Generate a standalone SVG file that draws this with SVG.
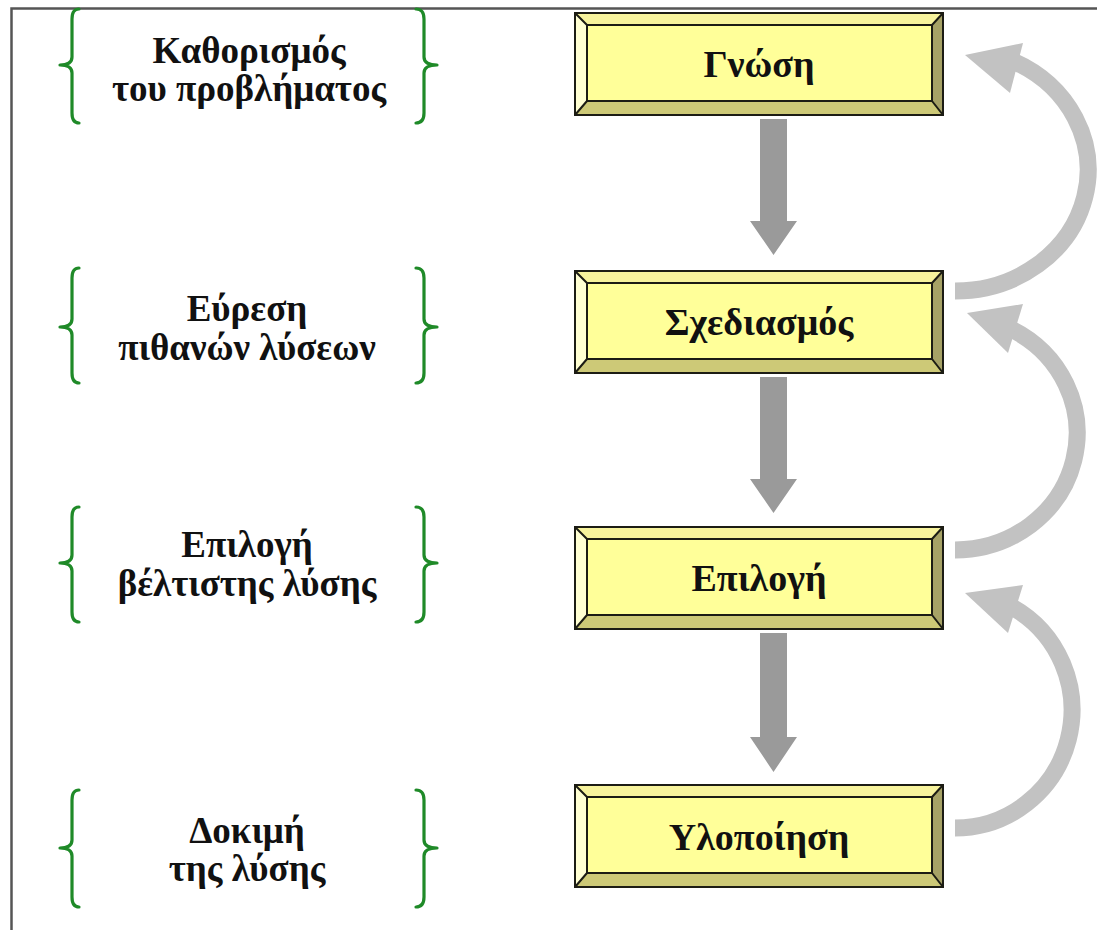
<svg xmlns="http://www.w3.org/2000/svg" width="1097" height="930" viewBox="0 0 1097 930">
<style>
.lbl{font-family:"Liberation Serif","Times New Roman",serif;font-weight:bold;font-size:37px;fill:#111;text-anchor:middle}
.box{font-size:38px}
.brace{fill:none;stroke:#1f8a28;stroke-width:3.2;stroke-linecap:round;stroke-linejoin:round}
.face{fill:#FFFF99}
.bt{fill:#F7F39C}
.bl{fill:#FFFFD2}
.bb{fill:#CDC977}
.br{fill:#A6A266}
.edge{fill:none;stroke:#1c1c14;stroke-width:2}
.down{fill:#9a9a9a}
.ret{fill:none;stroke:#c2c2c2;stroke-width:17}
.reth{fill:#c2c2c2}
</style>
<rect width="1097" height="930" fill="#fff"/>
<path d="M11.5 930 V8.5 H1097" fill="none" stroke="#555" stroke-width="2.5"/>

<g id="label1">
<path class="brace" d="M79 9 Q72 9 72 19 V57 Q72 65 60 65 Q72 65 72 73 V113 Q72 123 79 123"/>
<path class="brace" d="M416 9 Q424 9 424 19 V57 Q424 65 437 65 Q424 65 424 73 V113 Q424 123 416 123"/>
<text class="lbl" x="249" y="63">Καθορισμός</text>
<text class="lbl" x="249" y="101">του προβλήματος</text>
</g>
<g id="label2">
<path class="brace" d="M79 268 Q72 268 72 278 V319 Q72 327 60 327 Q72 327 72 335 V373 Q72 383 79 383"/>
<path class="brace" d="M416 268 Q424 268 424 278 V319 Q424 327 437 327 Q424 327 424 335 V373 Q424 383 416 383"/>
<text class="lbl" x="247" y="321">Εύρεση</text>
<text class="lbl" x="247" y="360">πιθανών λύσεων</text>
</g>
<g id="label3">
<path class="brace" d="M79 507 Q72 507 72 517 V555 Q72 563 60 563 Q72 563 72 571 V612 Q72 622 79 622"/>
<path class="brace" d="M416 507 Q424 507 424 517 V555 Q424 563 437 563 Q424 563 424 571 V612 Q424 622 416 622"/>
<text class="lbl" x="247" y="557">Επιλογή</text>
<text class="lbl" x="247" y="596">βέλτιστης λύσης</text>
</g>
<g id="label4">
<path class="brace" d="M79 790 Q72 790 72 800 V840 Q72 848 60 848 Q72 848 72 856 V897 Q72 907 79 907"/>
<path class="brace" d="M416 790 Q424 790 424 800 V840 Q424 848 437 848 Q424 848 424 856 V897 Q424 907 416 907"/>
<text class="lbl" x="247" y="843">Δοκιμή</text>
<text class="lbl" x="247" y="881">της λύσης</text>
</g>

<g id="node-gnosi">
<rect class="face" x="575" y="13" width="368" height="102"/>
<polygon class="bt" points="575,13 943,13 932,25 587,25"/>
<polygon class="bl" points="575,13 587,25 587,101 575,115"/>
<polygon class="bb" points="575,115 587,101 932,101 943,115"/>
<polygon class="br" points="943,13 943,115 932,101 932,25"/>
<rect class="edge" x="575" y="13" width="368" height="102"/>
<rect class="edge" x="587" y="25" width="345" height="76"/>
<path class="edge" d="M575 13 L587 25 M943 13 L932 25 M575 115 L587 101 M943 115 L932 101"/>
<text class="lbl box" x="759" y="77">Γνώση</text>
</g>
<g id="node-sxediasmos">
<rect class="face" x="575" y="271" width="368" height="102"/>
<polygon class="bt" points="575,271 943,271 932,283 587,283"/>
<polygon class="bl" points="575,271 587,283 587,359 575,373"/>
<polygon class="bb" points="575,373 587,359 932,359 943,373"/>
<polygon class="br" points="943,271 943,373 932,359 932,283"/>
<rect class="edge" x="575" y="271" width="368" height="102"/>
<rect class="edge" x="587" y="283" width="345" height="76"/>
<path class="edge" d="M575 271 L587 283 M943 271 L932 283 M575 373 L587 359 M943 373 L932 359"/>
<text class="lbl box" x="759" y="335">Σχεδιασμός</text>
</g>
<g id="node-epilogi">
<rect class="face" x="575" y="527" width="368" height="102"/>
<polygon class="bt" points="575,527 943,527 932,539 587,539"/>
<polygon class="bl" points="575,527 587,539 587,615 575,629"/>
<polygon class="bb" points="575,629 587,615 932,615 943,629"/>
<polygon class="br" points="943,527 943,629 932,615 932,539"/>
<rect class="edge" x="575" y="527" width="368" height="102"/>
<rect class="edge" x="587" y="539" width="345" height="76"/>
<path class="edge" d="M575 527 L587 539 M943 527 L932 539 M575 629 L587 615 M943 629 L932 615"/>
<text class="lbl box" x="759" y="591">Επιλογή</text>
</g>
<g id="node-ylopoiisi">
<rect class="face" x="575" y="785" width="368" height="102"/>
<polygon class="bt" points="575,785 943,785 932,797 587,797"/>
<polygon class="bl" points="575,785 587,797 587,873 575,887"/>
<polygon class="bb" points="575,887 587,873 932,873 943,887"/>
<polygon class="br" points="943,785 943,887 932,873 932,797"/>
<rect class="edge" x="575" y="785" width="368" height="102"/>
<rect class="edge" x="587" y="797" width="345" height="76"/>
<path class="edge" d="M575 785 L587 797 M943 785 L932 797 M575 887 L587 873 M943 887 L932 873"/>
<text class="lbl box" x="759" y="850">Υλοποίηση</text>
</g>

<g id="connectors">
<polygon class="down" points="760,119 787,119 787,221 797,221 773.5,255 750,221 760,221"/>
<polygon class="down" points="760,377 787,377 787,479 797,479 773.5,513 750,479 760,479"/>
<polygon class="down" points="760,633 787,633 787,737 797,737 773.5,772 750,737 760,737"/>

<path class="ret" d="M955 291 A133 121 0 0 0 1013.3 61.2"/>
<polygon class="reth" points="965,55 1023,43 1010,93"/>
<path class="ret" d="M955 550 A122 117 0 0 0 1010.4 328.7"/>
<polygon class="reth" points="967,313 1023,304 1008,353"/>
<path class="ret" d="M955 828 A117 118 0 0 0 1011.7 606.8"/>
<polygon class="reth" points="965,593 1023,585 1008,633"/>
</g>
</svg>
